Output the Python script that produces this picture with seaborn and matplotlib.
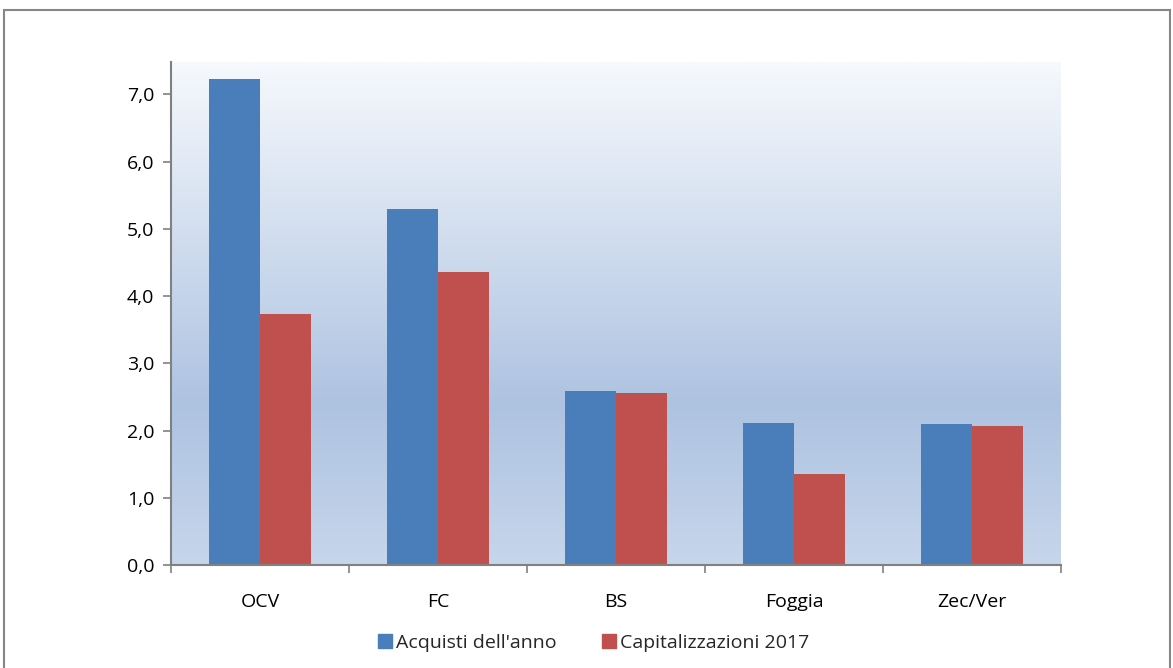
import numpy as np
import pandas as pd
import matplotlib.pyplot as plt
import seaborn as sns
from matplotlib.colors import LinearSegmentedColormap
from matplotlib.lines import Line2D
from matplotlib.ticker import FixedLocator, FuncFormatter

# Data
categories = ["OCV", "FC", "BS", "Foggia", "Zec/Ver"]
acquisti = [7.22, 5.29, 2.59, 2.11, 2.10]
capitalizzazioni = [3.74, 4.35, 2.56, 1.35, 2.07]
series_names = ["Acquisti dell'anno", "Capitalizzazioni 2017"]
y_ticks = [0, 1, 2, 3, 4, 5, 6, 7]

df = pd.DataFrame({
    "categoria": categories * 2,
    "valore": acquisti + capitalizzazioni,
    "serie": [series_names[0]] * len(categories) + [series_names[1]] * len(categories),
})

sns.set_style("white")
plt.rcParams['font.family'] = ['Open Sans', 'DejaVu Sans']

fig = plt.figure(figsize=(11.73, 6.68), dpi=100)
ax = fig.add_axes([171 / 1173, 103 / 668, 890 / 1173, 503 / 668])

# Gradient background (white at top, blue towards bottom)
grad_cmap = LinearSegmentedColormap.from_list(
    "bg", [(0.0, "#c6d6eb"), (0.32, "#aec3e1"), (1.0, "#f6f9fd")])
grad = np.linspace(0, 1, 256).reshape(-1, 1)
ax.imshow(grad, cmap=grad_cmap, origin="lower", aspect="auto",
          extent=(-0.5, 4.5, 0, 7.48), zorder=0)

palette = {series_names[0]: "#4a7ebb", series_names[1]: "#c0504d"}
sns.barplot(data=df, x="categoria", y="valore", hue="serie", palette=palette,
            width=0.575, saturation=1, ax=ax, zorder=2, legend=False,
            linewidth=0, edgecolor="none")

ax.set_xlim(-0.5, 4.5)
ax.set_ylim(0, 7.48)
ax.set_xlabel("")
ax.set_ylabel("")

ax.yaxis.set_major_locator(FixedLocator(y_ticks))
ax.yaxis.set_major_formatter(FuncFormatter(lambda v, p: f"{v:.1f}".replace(".", ",")))
ax.set_xticks(range(len(categories)))
ax.set_xticklabels(categories)
ax.xaxis.set_minor_locator(FixedLocator(np.arange(-0.5, 5, 1)))
ax.tick_params(axis="x", which="major", length=0, pad=20, labelsize=14, colors="#000000")
ax.tick_params(axis="x", which="minor", length=6, width=1.2, color="#808080", bottom=True)
ax.tick_params(axis="y", length=6, width=1.2, color="#808080", labelsize=14, pad=6,
               left=True, labelcolor="#000000")

for side in ["top", "right"]:
    ax.spines[side].set_visible(False)
for side in ["left", "bottom"]:
    ax.spines[side].set_color("#808080")
    ax.spines[side].set_linewidth(1.5)
    ax.spines[side].set_zorder(3)

handles = [Line2D([], [], marker="s", linestyle="", markersize=10,
                  markerfacecolor=palette[n], markeredgecolor=palette[n]) for n in series_names]
fig.legend(handles, series_names, loc="center", bbox_to_anchor=(0.505, 0.038),
           ncol=2, frameon=False, fontsize=14, handletextpad=0.05,
           columnspacing=2.2, handlelength=1.0)

# Outer chart border
fig.add_artist(plt.Rectangle((4 / 1173, -0.01), 1166 / 1173, 1 - 10 / 668 + 0.01,
                             transform=fig.transFigure, fill=False,
                             edgecolor="#868686", linewidth=1.5))

fig.savefig("out.png", dpi=100)
